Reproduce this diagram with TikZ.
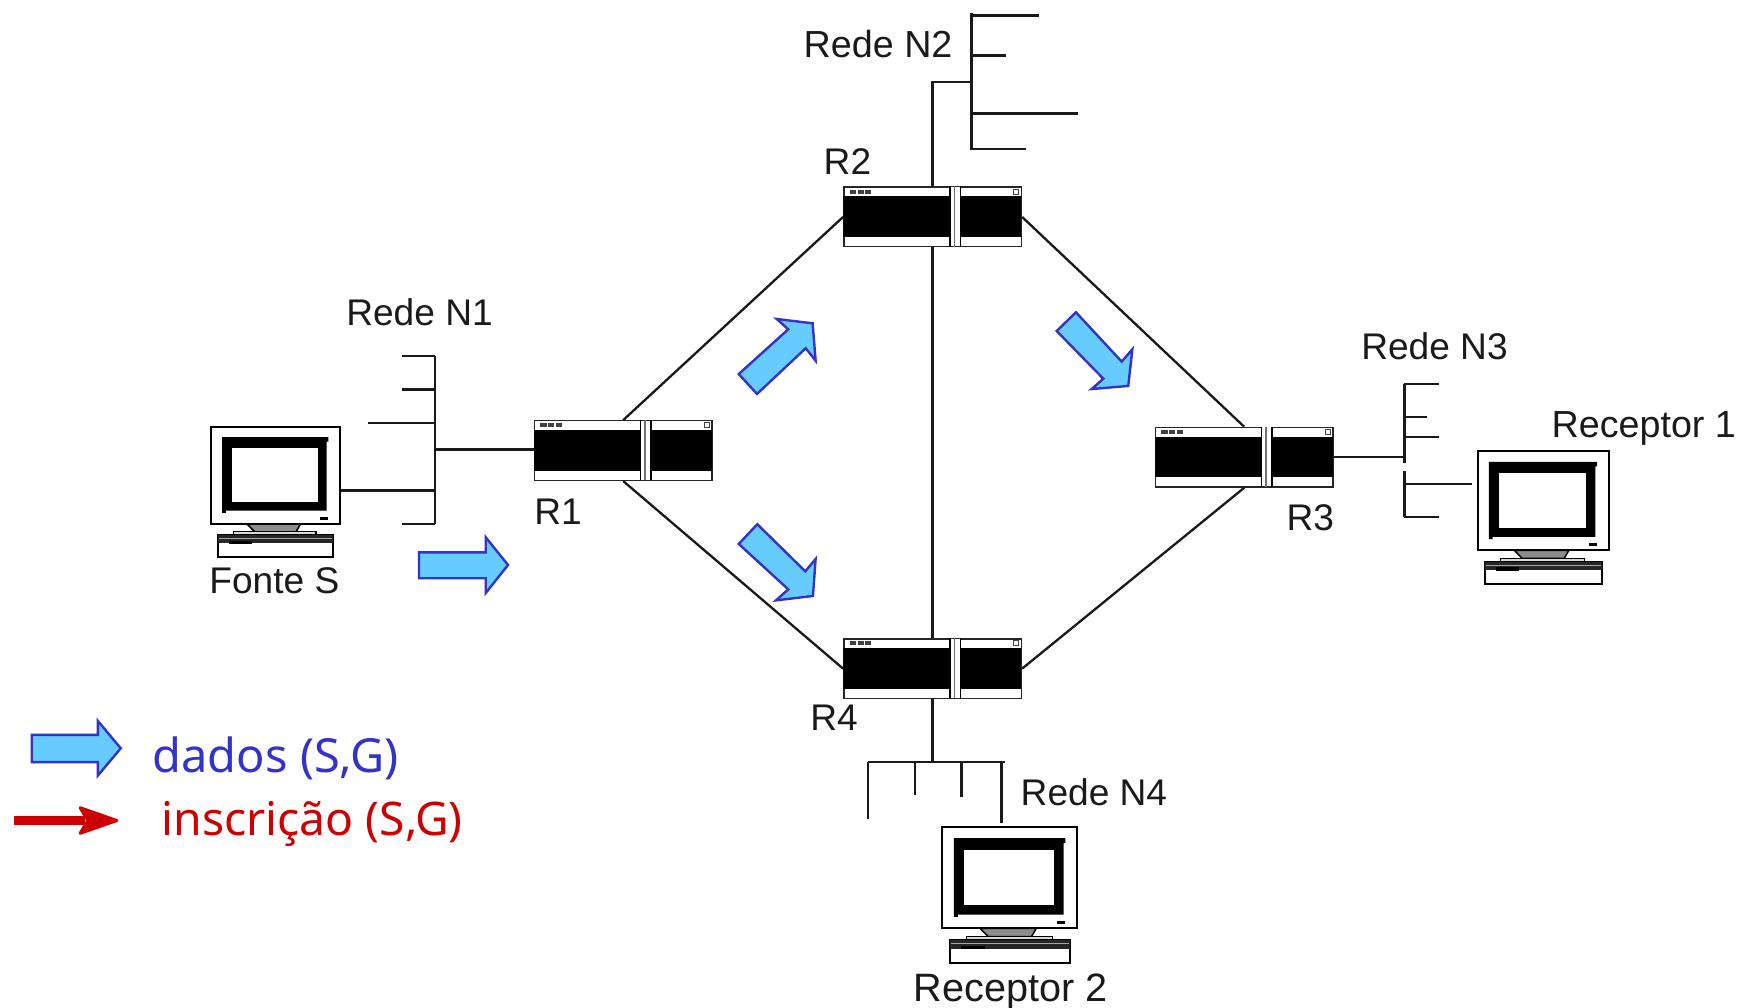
\documentclass[tikz,border=0pt]{standalone}
\usepackage{fontspec}
\setmainfont{Liberation Sans}
\newfontfamily\legendfont{Noto Sans}
\definecolor{arrowfill}{HTML}{66CCFF}
\definecolor{arrowline}{HTML}{3333CC}
\definecolor{legendred}{HTML}{CC0000}
\definecolor{labelink}{HTML}{1A1A1A}
\tikzset{
  wire/.style={draw=black!90,line width=2.3pt},
  routerbox/.style={draw=black!85,fill=white,line width=1.4pt,minimum width=177.6pt,minimum height=59.6pt,inner sep=0pt},
  monitorbox/.style={draw=black,fill=white,line width=2pt,inner sep=0pt},
  blockarrow/.style={draw=arrowline,fill=arrowfill,line width=2.4pt,line join=miter},
  lab/.style={font=\fontsize{37.1pt}{40pt}\selectfont,text=labelink,anchor=base west,inner sep=0pt},
  widelab/.style={lab,font=\fontsize{37.7pt}{40pt}\selectfont},
  biglab/.style={lab,font=\fontsize{39.6pt}{42pt}\selectfont},
  legendlab/.style={font=\legendfont\fontsize{47pt}{50pt}\selectfont,anchor=base west,inner sep=0pt},
  legendlabb/.style={font=\legendfont\fontsize{46.3pt}{50pt}\selectfont,anchor=base west,inner sep=0pt},
}
\newcommand{\routerdetail}[1]{%
  \begin{scope}[shift={(#1.north west)}]
    \fill[black] (0,9) rectangle (160,45.5);
    \fill[white] (95.5,0.6) rectangle (105.5,53.4);
    \draw[black,line width=1.6pt] (96,0) -- (96,54);
    \draw[black!55,line width=1.2pt] (100,0) -- (100,54);
    \draw[black,line width=1.6pt] (105.5,0) -- (105.5,54);
    \foreach \q in {6,13,20}{\fill[black!75] (\q,3) rectangle (\q+5.5,6.5);}
    \draw[black!75,line width=0.9pt] (153.5,2.5) rectangle (158,7);
  \end{scope}%
}
\newcommand{\computer}[5]{%
  \begin{scope}[shift={(#2,#3)},xscale=#4,yscale=#5]
    \draw[black,line width=1.5pt,fill=black!45] (34,88) -- (41,95) -- (78,95) -- (82,88) -- cycle;
    \draw[black,line width=1.2pt,fill=black!15] (22,98) -- (22,95) -- (96,95) -- (96,98) -- cycle;
    \draw[black,line width=1.8pt,fill=white] (8,98) rectangle (111,117.5);
    \fill[black!85] (8,98) rectangle (111,105.5);
    \fill[black!35] (9,100.8) rectangle (110,101.8);
    \fill[black] (18,103) rectangle (38,106);
    \node[monitorbox,minimum width=#4*128.5pt,minimum height=#5*97pt] (#1) at (59.5,44) {};
    \fill[black] (11.5,10) -- (107,10) -- (107,14) -- (105.5,14) -- (105.5,76) -- (15,76) -- (15,78) -- (11.5,78) -- cycle;
    \fill[white] (20.5,20) rectangle (97.5,68);
    \fill[black] (99.5,81.5) rectangle (107,84.5);
  \end{scope}%
}
\begin{document}
\begin{tikzpicture}[x=1.1129pt,y=-1.1126pt]
\useasboundingbox (0,0) rectangle (1568,906);
% routers
\node[routerbox] (r1) at (560,405) {};
\node[routerbox] (r2) at (838,195) {};
\node[routerbox] (r3) at (1118,411) {};
\node[routerbox] (r4) at (838,601) {};
\routerdetail{r1}\routerdetail{r2}\routerdetail{r3}\routerdetail{r4}
% computers
\computer{fonte}{188}{383}{1}{1}
\computer{rec1}{1326}{405}{1.02}{1.02}
\computer{rec2}{845}{743}{1.05}{1.04}
% backbone
\draw[wire] (r1.north) -- (r2.west);
\draw[wire] (r1.south) -- (r4.west);
\draw[wire] (r2.east) -- (r3.north);
\draw[wire] (r3.south) -- (r4.east);
\draw[wire] (r2.south) -- (r4.north);
% N1
\coordinate (n1a) at (391,320); \coordinate (n1b) at (391,471);
\coordinate (n1c) at (391,404); \coordinate (n1d) at (391,441);
\draw[wire] (n1a) -- (n1b);
\draw[wire] (361,320) -- (n1a);
\draw[wire] (361,350) -- (391,350);
\draw[wire] (331,380) -- (391,380);
\draw[wire] (361,471) -- (n1b);
\draw[wire] (fonte.east |- n1d) -- (n1d);
\draw[wire] (n1c) -- (n1c -| r1.west);
% N2
\coordinate (n2a) at (873,12); \coordinate (n2b) at (873,135); \coordinate (n2c) at (873,74);
\draw[wire] (n2a) -- (n2b);
\draw[wire] (873,14) -- (934,14);
\draw[wire] (873,50) -- (904,50);
\draw[wire] (873,102) -- (969,102);
\draw[wire] (873,134) -- (922,134);
\draw[wire] (n2c) -- (n2c -| r2.north) -- (r2.north);
% N3
\coordinate (n3a) at (1262,345); \coordinate (n3b) at (1262,465); \coordinate (n3c) at (1262,411); \coordinate (n3d) at (1323,435);
\draw[wire] (n3a) -- (1262,416);
\draw[wire] (1262,423) -- (n3b);
\draw[wire] (n3a) -- (1293,345);
\draw[wire] (1262,375) -- (1282,375);
\draw[wire] (1262,393) -- (1293,393);
\draw[wire] (1262,435) -- (n3d);
\draw[wire] (n3b) -- (1293,465);
\draw[wire] (r3.east |- n3c) -- (n3c);
% N4
\coordinate (n4a) at (838,685);
\draw[wire] (r4.south) -- (n4a);
\draw[wire] (780,685) -- (903,685);
\draw[wire] (780,685) -- (780,736);
\draw[wire] (822,685) -- (822,715);
\draw[wire] (864,685) -- (864,716);
\draw[wire] (900,685) -- (900,740);
% block arrows
\path[blockarrow] (376.5,496.5) -- (436.5,496.5) -- (436.5,483) -- (456.5,507.8) -- (436.5,533) -- (436.5,519.7) -- (376.5,519.7) -- cycle;
\path[blockarrow] (663.8,336.2) -- (708.3,296) -- (697.9,286.7) -- (730.2,290.6) -- (732.9,324.2) -- (724,313) -- (680.2,354.1) -- cycle;
\path[blockarrow] (966.8,280.7) -- (1007.9,325) -- (1017.5,314) -- (1013.8,346.9) -- (980.9,349.7) -- (991.4,340.4) -- (949.5,297.5) -- cycle;
\path[blockarrow] (680.5,471.2) -- (723.6,513.5) -- (732.9,502.4) -- (730.5,535.7) -- (697.3,539.6) -- (708.3,529.7) -- (663.8,488.9) -- cycle;
\path[blockarrow] (28.5,660.5) -- (88,660.5) -- (88,648) -- (108.5,672.6) -- (88,697) -- (88,685) -- (28.5,685) -- cycle;
% red arrow
\fill[legendred] (13,733.5) -- (76,733.5) -- (76,741.5) -- (13,741.5) -- cycle;
\draw[legendred,fill=legendred,line width=3pt,line join=round] (72,726) -- (105,737.5) -- (72,749) -- (79,737.5) -- cycle;
% labels
\node[lab] (ln1) at (311,293) {Rede N1};
\node[widelab] (ln2) at (722,52) {Rede N2};
\node[lab] (ln3) at (1223,323) {Rede N3};
\node[lab] (ln4) at (917,724) {Rede N4};
\node[lab] (lr1) at (480,471) {R1};
\node[lab] (lr2) at (740,157) {R2};
\node[lab] (lr3) at (1156,477) {R3};
\node[lab] (lr4) at (728,657) {R4};
\node[lab] (lf) at (188,533) {Fonte S};
\node[widelab] (lre1) at (1394,393.5) {Receptor 1};
\node[biglab] (lre2) at (821,900) {Receptor 2};
\node[legendlab,text=arrowline] (ld) at (137,694) {dados (S,G)};
\node[legendlabb,text=legendred] (li) at (145,751) {inscrição (S,G)};
\end{tikzpicture}
\end{document}
